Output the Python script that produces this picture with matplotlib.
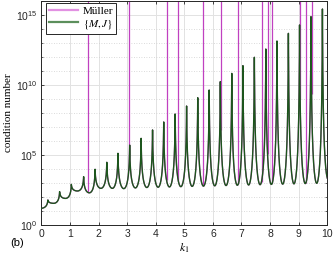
import numpy as np
import matplotlib
matplotlib.use('Agg')
import matplotlib.pyplot as plt
from matplotlib.lines import Line2D
from matplotlib.ticker import FixedLocator, NullFormatter, LogFormatterSciNotation

# resonance peaks of the {M,J} formulation (k1, log10 of condition number)
peak_k = [0.23, 0.64, 1.05, 1.48, 1.88, 2.29, 2.68, 3.09, 3.49, 3.89, 4.28, 4.68, 5.08,
          5.47, 5.87, 6.26, 6.66, 7.05, 7.45, 7.85, 8.24, 8.64, 9.03, 9.43, 9.83]
peak_log = [1.79, 2.38, 2.90, 3.45, 3.98, 4.48, 5.12, 5.71, 6.19, 6.79, 7.36, 7.93, 8.50,
            9.09, 9.64, 10.24, 10.83, 11.38, 11.98, 12.57, 13.14, 13.69, 14.29, 14.88, 15.43]
# valley levels: at k=0, between each pair of peaks, and at k=10
start_log = 1.19
dip_log = [1.55, 1.90, 2.43, 2.30, 2.62, 2.62, 2.60, 2.65, 2.68, 2.70, 2.72, 2.74, 2.76,
           2.78, 2.80, 2.82, 2.84, 2.86, 2.88, 2.90, 2.92, 2.94, 2.96, 2.98]
end_log = 3.3

# spurious resonances of the Muller formulation
spike_k = [1.63, 3.06, 4.38, 4.79, 5.66, 6.28, 6.89, 7.70, 7.91, 8.08, 9.05, 9.24, 9.45]

# build the curve: cusp shaped resonances between the read peaks / valleys
pk = [-peak_k[0] - 0.05] + peak_k + [10.23]
ph = [peak_log[0]] + peak_log + [end_log + 1]
dv = [start_log] + dip_log + [end_log - 0.05]
k = np.unique(np.concatenate([np.linspace(0, 10, 20001), peak_k, spike_k]))
logc = np.zeros_like(k)
e = 0.04
u0 = np.log10(1 / e + 1 / (2 + e))
u1 = np.log10(2 / (1 + e))
for i in range(len(pk) - 1):
    a, b = pk[i], pk[i + 1]
    m = (k >= a) & (k <= b)
    t = (k[m] - a) / (b - a) * 2
    frac = (np.log10(1 / (t + e) + 1 / (2 - t + e)) - u1) / (u0 - u1)
    h = np.where(t < 1, ph[i], ph[i + 1])
    logc[m] = dv[i] + (h - dv[i]) * frac
cond = 10 ** logc
spike_base = 10 ** np.interp(spike_k, k, logc)

plt.rcParams['mathtext.fontset'] = 'stix'
plt.rcParams['font.family'] = 'Liberation Sans'

fig = plt.figure(figsize=(3.35, 2.56), dpi=100)
ax = fig.add_axes([0.1233, 0.121, 0.8537, 0.875])

mag = '#c040c0'
grn = '#1d561d'
ax.plot(k, cond, color=mag, lw=0.9, zorder=2)
ax.vlines(spike_k, spike_base, 1e18, color=mag, lw=0.9, zorder=2)
ax.plot(k, cond, color=grn, lw=1.0, zorder=3)

ax.set_yscale('log')
ax.set_xlim(0, 10)
ax.set_ylim(1, 1e16)
ax.set_xticks(range(11))
ax.yaxis.set_major_locator(FixedLocator([1, 1e5, 1e10, 1e15]))
ax.yaxis.set_major_formatter(LogFormatterSciNotation())
ax.yaxis.set_minor_locator(FixedLocator(10.0 ** np.arange(0, 17)))
ax.yaxis.set_minor_formatter(NullFormatter())
ax.xaxis.set_minor_locator(FixedLocator([]))

ax.grid(True, which='major', color='#e2e2e2', lw=0.7, ls='-')
ax.grid(True, which='minor', axis='y', color='#cfcfcf', lw=0.6, ls=(0, (1, 2)))
ax.set_axisbelow(True)

ax.tick_params(which='both', direction='in', top=True, right=True, colors='#262626',
               labelsize=7.5, pad=3)
ax.tick_params(which='major', length=2.5, width=0.6)
ax.tick_params(which='minor', length=1.5, width=0.5)
for s in ax.spines.values():
    s.set_color('#262626')
    s.set_linewidth(0.7)

ax.set_ylabel('condition number', family='Liberation Serif', fontsize=8)
ax.yaxis.set_label_coords(-0.1, 0.5)
ax.set_xlabel(r'$k_1$', fontsize=8.5)
ax.xaxis.set_label_coords(0.5, -0.075)

handles = [Line2D([], [], color='#e291e2', lw=1.6),
           Line2D([], [], color='#5c8f5c', lw=1.6)]
leg = ax.legend(handles, ['Müller', r'$\{M,J\}$'], loc='upper left',
                bbox_to_anchor=(0.016, 0.992), prop={'family': 'Liberation Serif', 'size': 8},
                fancybox=False, framealpha=1, edgecolor='#262626', borderpad=0.3,
                handlelength=2.6, handletextpad=0.4, labelspacing=0.15, borderaxespad=0)
leg.get_frame().set_linewidth(0.7)
leg.set_zorder(5)

fig.text(0.051, 0.051, '(b)', fontsize=8, ha='center', va='center')

fig.savefig('out.png', dpi=100)
